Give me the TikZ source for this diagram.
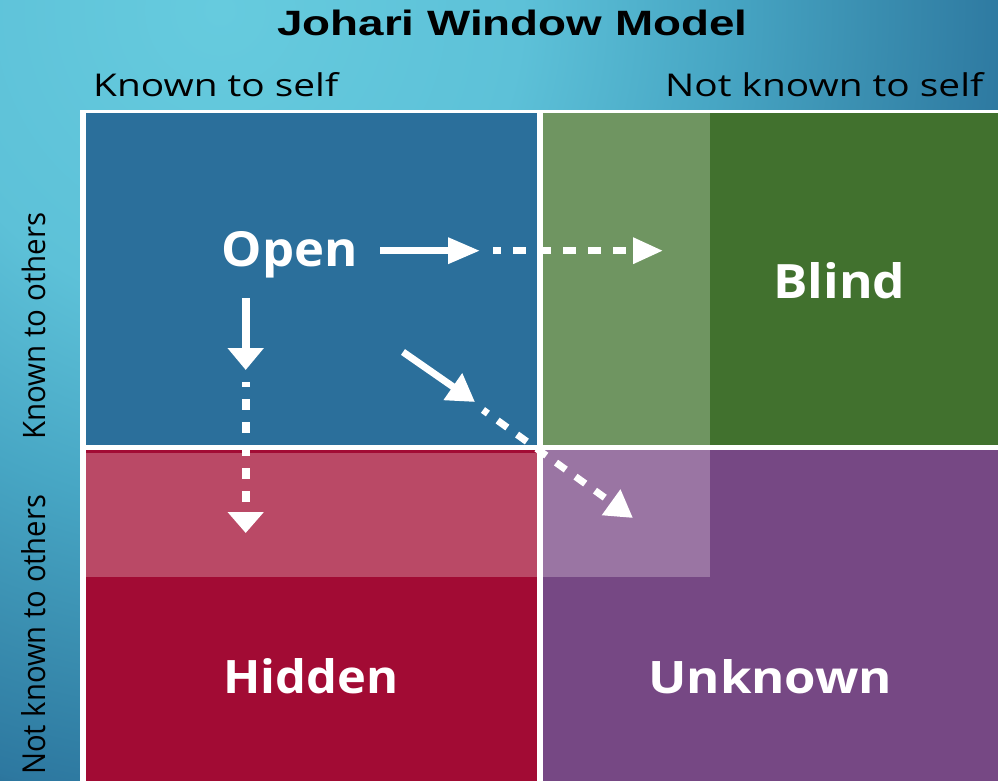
\documentclass[tikz,border=0pt]{standalone}
\usepackage{fontspec}
\usepackage{graphicx}
\usetikzlibrary{arrows.meta}
\setmainfont{Open Sans}
\newfontfamily\titlefont{Liberation Sans}

% background glow, used at its natural size (radii in bp)
\definecolor{skyA}{HTML}{66CBDE}
\definecolor{skyB}{HTML}{5DC1D8}
\definecolor{skyC}{HTML}{47A6C4}
\definecolor{skyD}{HTML}{3A8EB0}
\definecolor{skyE}{HTML}{2D78A0}
\definecolor{skyF}{HTML}{245D82}
\definecolor{skyG}{HTML}{22557A}
\pgfdeclareradialshading{skyglow}{\pgfpoint{0bp}{0bp}}{color(0bp)=(skyA); color(300bp)=(skyB); color(500bp)=(skyC); color(650bp)=(skyD); color(790bp)=(skyE); color(860bp)=(skyF); color(950bp)=(skyG)}

% quadrant colours
\definecolor{openblue}{HTML}{2B6F9B}
\definecolor{blinddark}{HTML}{41712E}
\definecolor{blindlight}{HTML}{6F9561}
\definecolor{hiddendark}{HTML}{A20B34}
\definecolor{hiddenlight}{HTML}{BA4966}
\definecolor{unkdark}{HTML}{764884}
\definecolor{unklight}{HTML}{9A75A3}

\begin{document}
\begin{tikzpicture}[x=1pt, y=-1pt,
  lbl/.style={inner sep=0pt, anchor=base west, text=black},
  qlbl/.style={inner sep=0pt, anchor=base west, text=white, font=\bfseries},
  flow/.style={draw=white, line width=#1}]

\useasboundingbox (0,0) rectangle (998,781);

% background
\begin{scope}
  \clip (0,0) rectangle (998,781);
  \node[inner sep=0pt] (glow) at (220,10) {\pgfuseshading{skyglow}};
\end{scope}

% white frame and dividers
\fill[white] (80,110) rectangle (998,781);

% quadrants
\fill[openblue]   (86,113)  rectangle (537,445);
\fill[blinddark]  (543,113) rectangle (998,445);
\fill[blindlight] (543,113) rectangle (710,445);
\fill[hiddendark] (86,450)  rectangle (537,781);
\fill[hiddenlight](86,453)  rectangle (537,577);
\fill[unkdark]    (543,450) rectangle (998,781);
\fill[unklight]   (543,450) rectangle (710,577);

% headings
\node[lbl] (title) at (277,35.5) {\resizebox{470pt}{25.5pt}{\titlefont\bfseries Johari Window Model}};
\node[lbl] (kself) at (93,96.7) {\resizebox{245pt}{24pt}{Known to self}};
\node[lbl] (nkself) at (665,97) {\resizebox{318pt}{24pt}{Not known to self}};
\node[lbl, rotate=90] (kothers) at (45,440) {\resizebox{227pt}{23.5pt}{Known to others}};
\node[lbl, rotate=90] (nkothers) at (45,775) {\resizebox{280pt}{24pt}{Not known to others}};

% quadrant names
\node[qlbl] (open) at (221.7,266.7) {\resizebox{136pt}{35pt}{Open}};
\node[qlbl] (blind) at (773,298) {\resizebox{132pt}{36pt}{Blind}};
\node[qlbl] (hidden) at (223,693) {\resizebox{175pt}{35pt}{Hidden}};
\node[qlbl] (unknown) at (648,693) {\resizebox{244pt}{34pt}{Unknown}};

% arrow end points
\coordinate (hA) at (380,250.7);
\coordinate (hB) at (480,250.7);
\coordinate (hC) at (493,250.7);
\coordinate (hD) at (663,250.7);
\coordinate (vA) at (245.7,298);
\coordinate (vB) at (245.7,370);
\coordinate (vC) at (245.7,382);
\coordinate (vD) at (245.7,533);
\coordinate (dA) at (403,352);
\coordinate (dB) at (475,402);
\coordinate (dC) at (483,410);
\coordinate (dD) at (633,518);

% Open -> Blind
\draw[flow=6.5pt, -{Triangle[length=32pt,width=25pt]}] (hA) -- (hB);
\draw[flow=6.5pt, dash pattern=on 13pt off 12pt, dash phase=5pt,
      -{Triangle[length=30pt,width=25pt]}] (hC) -- (hD);
% Open -> Hidden
\draw[flow=8pt, -{Triangle[length=22pt,width=35pt]}] (vA) -- (vB);
\draw[flow=8pt, dash pattern=on 11pt off 12pt, dash phase=6pt,
      -{Triangle[length=21pt,width=35pt]}] (vC) -- (vD);
% Open -> Unknown
\draw[flow=7pt, -{Triangle[length=27pt,width=31pt]}] (dA) -- (dB);
\draw[flow=7pt, dash pattern=on 12pt off 12pt, dash phase=6pt,
      -{Triangle[length=27pt,width=30pt]}] (dC) -- (dD);

\end{tikzpicture}
\end{document}
